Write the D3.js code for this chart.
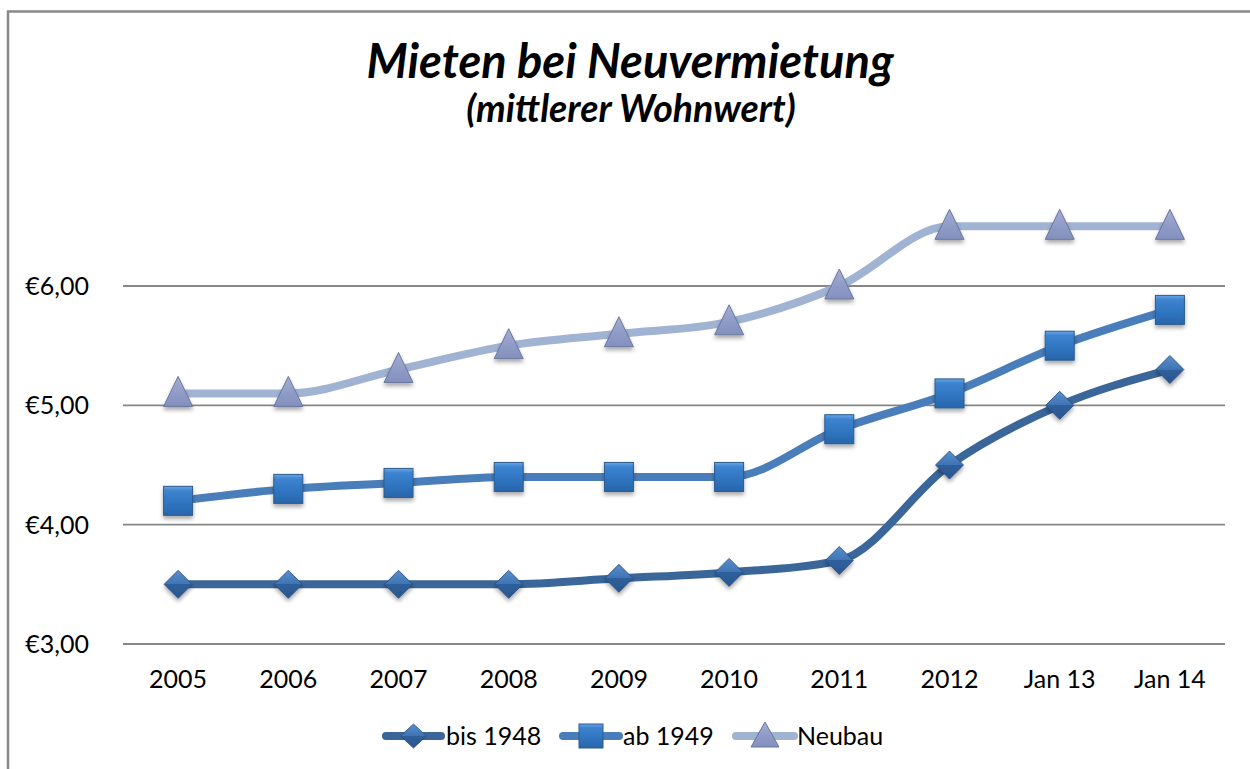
<!DOCTYPE html>
<html><head><meta charset="utf-8">
<script src="https://cdn.jsdelivr.net/npm/d3@7"></script>
<style>body{margin:0;background:#fff}svg{display:block}</style>
</head><body>
<svg id="c" width="1250" height="769"></svg>
<script>
const categories = ["2005","2006","2007","2008","2009","2010","2011","2012","Jan 13","Jan 14"];
const bis1948 = [3.5,3.5,3.5,3.5,3.55,3.6,3.7,4.5,5.0,5.3];
const ab1949 = [4.2,4.3,4.35,4.4,4.4,4.4,4.8,5.1,5.5,5.8];
const neubau = [5.1,5.1,5.3,5.5,5.6,5.7,6.0,6.5,6.5,6.5];
const yTicks = [3,4,5,6];
const seriesNames = ["bis 1948","ab 1949","Neubau"];

const font = "Lato, 'Open Sans', sans-serif";
const fs = 25;
const svg = d3.select("#c");
const defs = svg.append("defs");

// drop shadow
const f = defs.append("filter").attr("id","sh").attr("x","-50%").attr("y","-50%").attr("width","200%").attr("height","200%");
f.append("feGaussianBlur").attr("in","SourceAlpha").attr("stdDeviation",2.2);
f.append("feOffset").attr("dx",0).attr("dy",3).attr("result","ob");
f.append("feComponentTransfer").append("feFuncA").attr("type","linear").attr("slope",0.35);
const fm = f.append("feMerge"); fm.append("feMergeNode"); fm.append("feMergeNode").attr("in","SourceGraphic");

function grad(id, stops){
  const g = defs.append("linearGradient").attr("id",id).attr("x1",0).attr("y1",0).attr("x2",0).attr("y2",1);
  stops.forEach(s=>g.append("stop").attr("offset",s[0]).attr("stop-color",s[1]));
}
grad("gD",[[0,"#5b8fcc"],[0.5,"#3e73b4"],[0.5,"#2f5f9a"],[1,"#2a5690"]]);
grad("gS",[[0,"#6ea6e6"],[0.15,"#3d84d0"],[0.6,"#2f74c0"],[1,"#2a66aa"]]);
grad("gT",[[0,"#a4aed4"],[0.6,"#8e9ac6"],[1,"#8390bd"]]);

// outer border
svg.append("path").attr("d","M8,769 V11.5 H1250").attr("fill","none").attr("stroke","#888").attr("stroke-width",2.5);

const x = d3.scalePoint().domain(categories).range([123,1225]).padding(0.5);
const y = d3.scaleLinear().domain([3,7]).range([644,166.67]);

// gridlines
svg.append("g").selectAll("line").data(yTicks).join("line")
  .attr("x1",123).attr("x2",1225).attr("y1",d=>y(d)).attr("y2",d=>y(d))
  .attr("stroke","#868686").attr("stroke-width",1.8);

// y labels
const fmt = d=>"€"+d.toFixed(2).replace(".",",");
svg.append("g").selectAll("text").data(yTicks).join("text")
  .attr("x",89).attr("y",d=>y(d)+9).attr("text-anchor","end")
  .attr("font-family",font).attr("font-size",fs).attr("fill","#000").text(fmt);

// x labels
svg.append("g").selectAll("text").data(categories).join("text")
  .attr("x",d=>x(d)).attr("y",688).attr("text-anchor","middle")
  .attr("font-family",font).attr("font-size",fs).attr("fill","#000").text(d=>d);

// title
svg.append("text").attr("x",630).attr("y",78).attr("text-anchor","middle")
  .attr("font-family",font).attr("font-size",47).attr("font-weight","bold").attr("font-style","italic").text("Mieten bei Neuvermietung");
svg.append("text").attr("x",631).attr("y",122).attr("text-anchor","middle")
  .attr("font-family",font).attr("font-size",37.5).attr("font-weight","bold").attr("font-style","italic").text("(mittlerer Wohnwert)");

const series = [
  {name:seriesNames[0], vals:bis1948, color:"#3a6699", marker:"diamond"},
  {name:seriesNames[1], vals:ab1949, color:"#4a7ebb", marker:"square"},
  {name:seriesNames[2], vals:neubau, color:"#a0b3d3", marker:"triangle"}
];

const line = d3.line().x((d,i)=>x(categories[i])).y(d=>y(d)).curve(d3.curveMonotoneX);

function drawMarker(g, type, cx, cy){
  if(type==="diamond"){
    const h=14;
    g.append("path").attr("d",`M${cx-h},${cy} L${cx},${cy-h} L${cx+h},${cy} L${cx},${cy+h} Z`)
      .attr("fill","url(#gD)").attr("stroke","#274d7c").attr("stroke-width",0.8).attr("filter","url(#sh)");
  } else if(type==="square"){
    const h=14.5;
    g.append("rect").attr("x",cx-h).attr("y",cy-h).attr("width",2*h).attr("height",2*h)
      .attr("fill","url(#gS)").attr("stroke","#2c5a8c").attr("stroke-width",1).attr("filter","url(#sh)");
  } else {
    g.append("path").attr("d",`M${cx},${cy-17} L${cx+14.5},${cy+13} L${cx-14.5},${cy+13} Z`)
      .attr("fill","url(#gT)").attr("stroke","#6a769d").attr("stroke-width",1).attr("filter","url(#sh)");
  }
}

series.slice().reverse().forEach(s=>{
  svg.append("path").datum(s.vals).attr("d",line).attr("fill","none")
    .attr("stroke",s.color).attr("stroke-width",8).attr("stroke-linejoin","round");
});
series.slice().reverse().forEach(s=>{
  const g = svg.append("g");
  s.vals.forEach((v,i)=>drawMarker(g, s.marker, x(categories[i]), y(v)));
});

// legend
const legendItems = [
  {s:series[0], x1:386, x2:441, tx:446},
  {s:series[1], x1:563, x2:619, tx:623},
  {s:series[2], x1:736, x2:794, tx:797}
];
const ly = 736;
legendItems.forEach(it=>{
  svg.append("line").attr("x1",it.x1).attr("x2",it.x2).attr("y1",ly).attr("y2",ly)
    .attr("stroke",it.s.color).attr("stroke-width",8).attr("stroke-linecap","round");
  const g = svg.append("g");
  const cx=(it.x1+it.x2)/2;
  if(it.s.marker==="triangle"){
    g.append("path").attr("d",`M${cx},${ly-14} L${cx+14},${ly+11} L${cx-14},${ly+11} Z`)
      .attr("fill","url(#gT)").attr("stroke","#6a769d").attr("stroke-width",1);
  } else if(it.s.marker==="square"){
    g.append("rect").attr("x",cx-12).attr("y",ly-12).attr("width",24).attr("height",24)
      .attr("fill","url(#gS)").attr("stroke","#2c5a8c").attr("stroke-width",1);
  } else {
    g.append("path").attr("d",`M${cx-13},${ly} L${cx},${ly-12} L${cx+13},${ly} L${cx},${ly+12} Z`)
      .attr("fill","url(#gD)").attr("stroke","#274d7c").attr("stroke-width",0.8);
  }
  svg.append("text").attr("x",it.tx).attr("y",ly+9).attr("font-family",font).attr("font-size",fs)
    .attr("fill","#000").text(it.s.name);
});
</script>
</body></html>
